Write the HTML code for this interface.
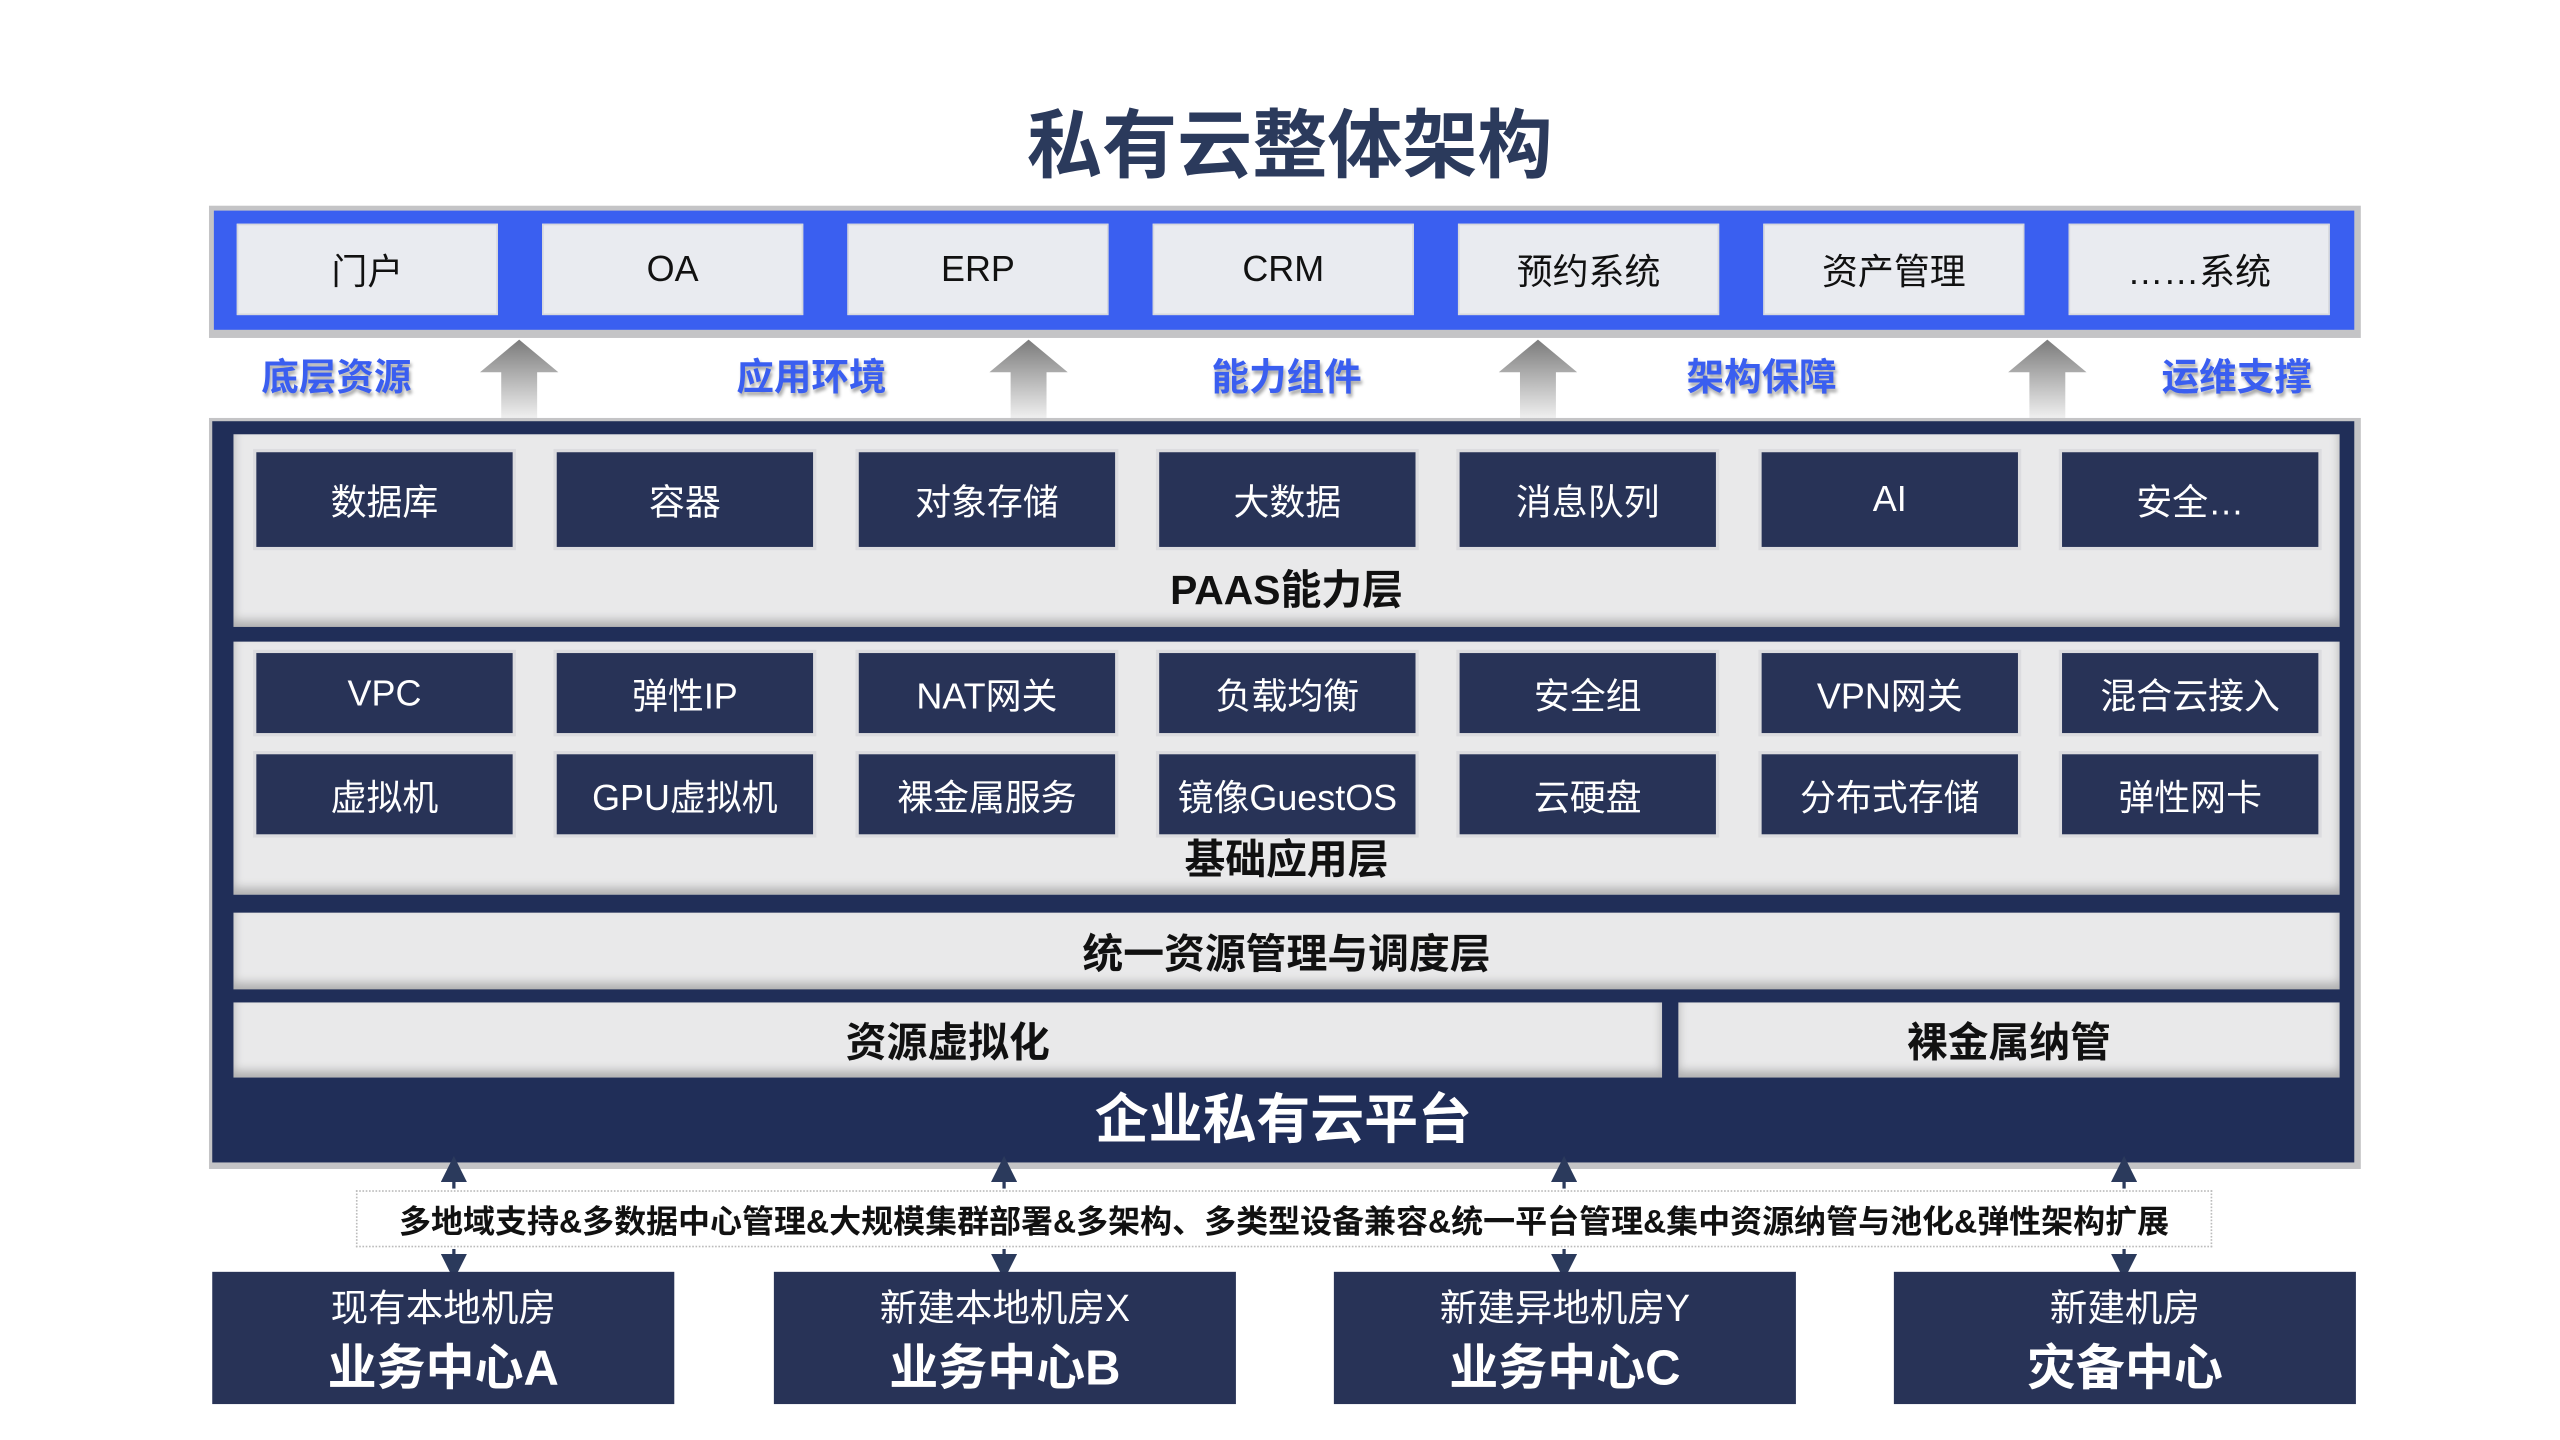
<!DOCTYPE html>
<html><head><meta charset="utf-8">
<style>
html,body{margin:0;padding:0;background:#fff;width:2560px;height:1440px;overflow:hidden}
#w{position:absolute;left:0;top:0;width:1568px;height:882px;transform:scale(1.63265);transform-origin:0 0;font-family:"Liberation Sans","Noto Sans CJK SC",sans-serif}
.a{position:absolute;box-sizing:border-box}
.c{display:flex;align-items:center;justify-content:center;text-align:center;white-space:nowrap}
.top{background:#e9ebf0;color:#111;font-size:22px;border:1px solid #d6d8dd}
.dk{background:#283357;color:#fff;font-size:22px;box-shadow:0 0 0 2px #dcdcdf}
.lbl{color:#3a5ef0;font-weight:bold;font-size:23px;line-height:30px;text-shadow:1px 2px 2px rgba(0,0,0,.35)}
.lt{background:#e9e9ea;box-shadow:0 -4px 6px rgba(0,0,0,.25) inset}
.b{font-weight:bold;color:#111;font-size:25px}
.bx{background:#283357;color:#fff}
.l1{position:absolute;left:0;right:0;top:6px;height:32px;line-height:32px;font-size:23px;text-align:center;white-space:nowrap}
.l2{position:absolute;left:0;right:0;top:42px;height:36px;line-height:36px;font-size:30px;font-weight:bold;text-align:center;white-space:nowrap}
</style></head><body><div id="w">
<div class="a c" style="left:0;width:1580px;top:56px;height:60px;font-size:46px;font-weight:bold;color:#2b3a5c">私有云整体架构</div>

<div class="a" style="left:128px;top:126px;width:1318px;height:81px;background:#c4c4c6"></div>
<div class="a" style="left:131px;top:129px;width:1311px;height:73px;background:#3a5ff0"></div>
<div class="a c top" style="left:145px;top:137px;width:160px;height:56px">门户</div>
<div class="a c top" style="left:332px;top:137px;width:160px;height:56px">OA</div>
<div class="a c top" style="left:519px;top:137px;width:160px;height:56px">ERP</div>
<div class="a c top" style="left:706px;top:137px;width:160px;height:56px">CRM</div>
<div class="a c top" style="left:893px;top:137px;width:160px;height:56px">预约系统</div>
<div class="a c top" style="left:1080px;top:137px;width:160px;height:56px">资产管理</div>
<div class="a c top" style="left:1267px;top:137px;width:160px;height:56px">……系统</div>

<div class="a lbl" style="left:160px;top:216px">底层资源</div>
<div class="a lbl" style="left:451px;top:216px">应用环境</div>
<div class="a lbl" style="left:742px;top:216px">能力组件</div>
<div class="a lbl" style="left:1033px;top:216px">架构保障</div>
<div class="a lbl" style="left:1324px;top:216px">运维支撑</div>

<svg class="a" style="left:0;top:0" width="1568" height="882">
<defs><linearGradient id="g" x1="0" y1="0" x2="0" y2="1"><stop offset="0" stop-color="#7b7b7b"/><stop offset="1" stop-color="#f4f4f4"/></linearGradient>
<marker id="m" markerWidth="8" markerHeight="8" refX="4" refY="4" orient="auto"><path d="M0,0L8,4L0,8z" fill="#2b3a5c"/></marker></defs>
<g fill="url(#g)">
<path d="M294,228L318,208L342,228L329,228L329,258L307,258L307,228Z"/>
<path d="M606,228L630,208L654,228L641,228L641,258L619,258L619,228Z"/>
<path d="M918,228L942,208L966,228L953,228L953,258L931,258L931,228Z"/>
<path d="M1230,228L1254,208L1278,228L1265,228L1265,258L1243,258L1243,228Z"/>
</g>
</svg>

<div class="a" style="left:128px;top:256px;width:1318px;height:460px;background:#c4c4c6"></div>
<div class="a" style="left:130px;top:258px;width:1312px;height:454px;background:#202e58"></div>

<div class="a lt" style="left:143px;top:266px;width:1290px;height:118px"></div>
<div class="a c dk" style="left:157px;top:277px;width:157px;height:58px">数据库</div>
<div class="a c dk" style="left:341px;top:277px;width:157px;height:58px">容器</div>
<div class="a c dk" style="left:526px;top:277px;width:157px;height:58px">对象存储</div>
<div class="a c dk" style="left:710px;top:277px;width:157px;height:58px">大数据</div>
<div class="a c dk" style="left:894px;top:277px;width:157px;height:58px">消息队列</div>
<div class="a c dk" style="left:1079px;top:277px;width:157px;height:58px">AI</div>
<div class="a c dk" style="left:1263px;top:277px;width:157px;height:58px">安全…</div>
<div class="a c b" style="left:143px;top:344px;width:1290px;height:32px">PAAS能力层</div>

<div class="a lt" style="left:143px;top:393px;width:1290px;height:155px"></div>
<div class="a c dk" style="left:157px;top:400px;width:157px;height:49px">VPC</div>
<div class="a c dk" style="left:341px;top:400px;width:157px;height:49px">弹性IP</div>
<div class="a c dk" style="left:526px;top:400px;width:157px;height:49px">NAT网关</div>
<div class="a c dk" style="left:710px;top:400px;width:157px;height:49px">负载均衡</div>
<div class="a c dk" style="left:894px;top:400px;width:157px;height:49px">安全组</div>
<div class="a c dk" style="left:1079px;top:400px;width:157px;height:49px">VPN网关</div>
<div class="a c dk" style="left:1263px;top:400px;width:157px;height:49px">混合云接入</div>
<div class="a c dk" style="left:157px;top:462px;width:157px;height:49px">虚拟机</div>
<div class="a c dk" style="left:341px;top:462px;width:157px;height:49px">GPU虚拟机</div>
<div class="a c dk" style="left:526px;top:462px;width:157px;height:49px">裸金属服务</div>
<div class="a c dk" style="left:710px;top:462px;width:157px;height:49px">镜像GuestOS</div>
<div class="a c dk" style="left:894px;top:462px;width:157px;height:49px">云硬盘</div>
<div class="a c dk" style="left:1079px;top:462px;width:157px;height:49px">分布式存储</div>
<div class="a c dk" style="left:1263px;top:462px;width:157px;height:49px">弹性网卡</div>
<div class="a c b" style="left:143px;top:509px;width:1290px;height:32px">基础应用层</div>

<div class="a c b lt" style="left:143px;top:559px;width:1290px;height:47px">统一资源管理与调度层</div>
<div class="a c b lt" style="left:143px;top:614px;width:875px;height:46px">资源虚拟化</div>
<div class="a c b lt" style="left:1028px;top:614px;width:405px;height:46px">裸金属纳管</div>
<div class="a c" style="left:130px;top:661px;width:1312px;height:44px;color:#fff;font-weight:bold;font-size:33px">企业私有云平台</div>

<div class="a c" style="left:218px;top:729px;width:1137px;height:35px;border:1px dotted #bbb;font-weight:bold;font-size:19.6px;color:#111">多地域支持&amp;多数据中心管理&amp;大规模集群部署&amp;多架构、多类型设备兼容&amp;统一平台管理&amp;集中资源纳管与池化&amp;弹性架构扩展</div>
<svg class="a" style="left:0;top:0" width="1568" height="882">
<g stroke="#2b3a5c" stroke-width="2" marker-end="url(#m)">
<line x1="278" y1="728" x2="278" y2="716"/><line x1="278" y1="765" x2="278" y2="776"/>
<line x1="615" y1="728" x2="615" y2="716"/><line x1="615" y1="765" x2="615" y2="776"/>
<line x1="958" y1="728" x2="958" y2="716"/><line x1="958" y1="765" x2="958" y2="776"/>
<line x1="1301" y1="728" x2="1301" y2="716"/><line x1="1301" y1="765" x2="1301" y2="776"/>
</g></svg>

<div class="a bx" style="left:130px;top:779px;width:283px;height:81px"><div class="l1">现有本地机房</div><div class="l2">业务中心A</div></div>
<div class="a bx" style="left:474px;top:779px;width:283px;height:81px"><div class="l1">新建本地机房X</div><div class="l2">业务中心B</div></div>
<div class="a bx" style="left:817px;top:779px;width:283px;height:81px"><div class="l1">新建异地机房Y</div><div class="l2">业务中心C</div></div>
<div class="a bx" style="left:1160px;top:779px;width:283px;height:81px"><div class="l1">新建机房</div><div class="l2">灾备中心</div></div>
</div></body></html>
